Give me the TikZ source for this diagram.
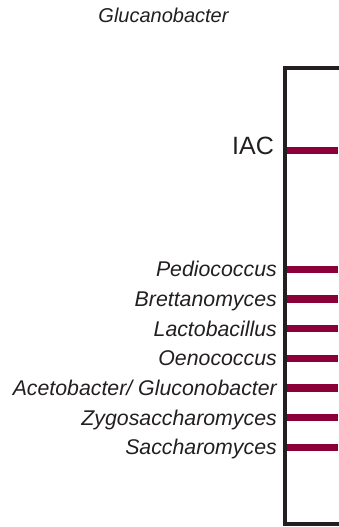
\documentclass[tikz,border=0pt]{standalone}
\usepackage{fontspec}
\setmainfont{Liberation Sans}
\definecolor{band}{RGB}{140,0,58}
\definecolor{frame}{RGB}{35,31,32}
\definecolor{txt}{RGB}{35,31,32}
\begin{document}
\begin{tikzpicture}[x=1pt,y=-1pt,
  lbl/.style={anchor=base east,inner sep=0pt,text=txt,font=\fontsize{21.3}{25}\selectfont\itshape},
  bandline/.style={draw=band,line width=7.3pt},
  frameline/.style={draw=frame,line width=4pt}]
\useasboundingbox (0,0) rectangle (339,527);
\begin{scope}
\clip (0,0) rectangle (339,527);
\draw[frameline] (285,68) rectangle (340.8,524);
% bands
\foreach \n/\y in {iacband/150.5,pedioband/269.3,brettband/299,lactoband/328.7,oenoband/358.3,acetoband/388,zygoband/417.7,sacchband/447.4}{
  \coordinate (\n-l) at (287,\y);
  \coordinate (\n-r) at (338,\y);
  \draw[bandline] (\n-l) -- (\n-r);
}
\end{scope}
\node[anchor=base,inner sep=0pt,text=txt,font=\fontsize{20}{24}\selectfont\itshape] (title) at (163.5,23) {Glucanobacter};
\node[anchor=base east,inner sep=0pt,text=txt,font=\fontsize{25}{30}\selectfont] (iac) at (274,154) {IAC};
\node[lbl] (pedio) at (277,276.8) {Pediococcus};
\node[lbl] (brett) at (277,306.5) {Brettanomyces};
\node[lbl] (lacto) at (277,336.2) {Lactobacillus};
\node[lbl] (oeno) at (277,365.8) {Oenococcus};
\node[lbl] (aceto) at (277,395.5) {Acetobacter/ Gluconobacter};
\node[lbl] (zygo) at (277,425.2) {Zygosaccharomyces};
\node[lbl] (sacch) at (277,454.9) {Saccharomyces};
\end{tikzpicture}
\end{document}
